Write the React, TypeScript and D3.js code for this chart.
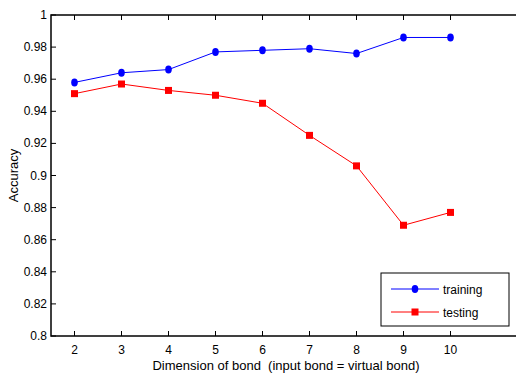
import React, { useEffect, useRef } from 'react';
import * as d3 from 'd3';

const dims = [2, 3, 4, 5, 6, 7, 8, 9, 10];
const training = [0.958, 0.964, 0.966, 0.977, 0.978, 0.979, 0.976, 0.986, 0.986];
const testing = [0.951, 0.957, 0.953, 0.950, 0.945, 0.925, 0.906, 0.869, 0.877];
const yTicks = [0.8, 0.82, 0.84, 0.86, 0.88, 0.9, 0.92, 0.94, 0.96, 0.98, 1];

const FONT = '"Liberation Sans", Arial, sans-serif';

const App = () => {
    const svgRef = useRef<SVGSVGElement>(null);

    useEffect(() => {
        const svg = d3.select(svgRef.current);
        svg.selectAll('*').remove();

        const left = 51, right = 521, top = 15, bottom = 336;
        const x = d3.scaleLinear().domain([1.5, 11.5]).range([left, right]);
        const y = d3.scaleLinear().domain([0.8, 1]).range([bottom, top]);

        const g = svg.append('g').style('font-family', FONT);

        // axes box
        g.append('rect')
            .attr('x', left).attr('y', top)
            .attr('width', right - left).attr('height', bottom - top)
            .attr('fill', 'none').attr('stroke', '#000').attr('stroke-width', 1.5);

        // y ticks (inward, both sides)
        yTicks.forEach(t => {
            g.append('line').attr('x1', left).attr('x2', left + 5)
                .attr('y1', y(t)).attr('y2', y(t)).attr('stroke', '#000');
            g.append('line').attr('x1', right).attr('x2', right - 5)
                .attr('y1', y(t)).attr('y2', y(t)).attr('stroke', '#000');
            g.append('text')
                .attr('x', left - 4).attr('y', y(t) + 4)
                .attr('text-anchor', 'end')
                .style('font-size', '12px')
                .text(d3.format('')(t));
        });

        // x ticks
        dims.forEach(d => {
            g.append('line').attr('x1', x(d)).attr('x2', x(d))
                .attr('y1', bottom).attr('y2', bottom - 5).attr('stroke', '#000');
            g.append('line').attr('x1', x(d)).attr('x2', x(d))
                .attr('y1', top).attr('y2', top + 5).attr('stroke', '#000');
            g.append('text')
                .attr('x', x(d)).attr('y', bottom + 18)
                .attr('text-anchor', 'middle')
                .style('font-size', '12px')
                .text(d);
        });

        // labels
        g.append('text')
            .attr('x', 286).attr('y', 370)
            .attr('text-anchor', 'middle')
            .style('font-size', '13px')
            .style('white-space', 'pre')
            .attr('xml:space', 'preserve')
            .text('Dimension of bond  (input bond = virtual bond)');

        g.append('text')
            .attr('transform', `translate(18, ${(top + bottom) / 2}) rotate(-90)`)
            .attr('text-anchor', 'middle')
            .style('font-size', '13px')
            .text('Accuracy');

        const line = d3.line<number>()
            .x((_, i) => x(dims[i]))
            .y(v => y(v));

        // training
        g.append('path').attr('d', line(training))
            .attr('fill', 'none').attr('stroke', '#0000ff').attr('stroke-width', 1);
        g.selectAll('.tr').data(training).enter().append('ellipse')
            .attr('cx', (_, i) => x(dims[i])).attr('cy', v => y(v))
            .attr('rx', 3.3).attr('ry', 4).attr('fill', '#0000ff');

        // testing
        g.append('path').attr('d', line(testing))
            .attr('fill', 'none').attr('stroke', '#ff0000').attr('stroke-width', 1);
        g.selectAll('.te').data(testing).enter().append('rect')
            .attr('x', (_, i) => x(dims[i]) - 3.5).attr('y', v => y(v) - 3.5)
            .attr('width', 7).attr('height', 7).attr('fill', '#ff0000');

        // legend
        const lg = g.append('g');
        lg.append('rect').attr('x', 381).attr('y', 273).attr('width', 128).attr('height', 53)
            .attr('fill', '#fff').attr('stroke', '#000').attr('stroke-width', 1);
        const items = [
            { label: 'training', color: '#0000ff', y: 289 },
            { label: 'testing', color: '#ff0000', y: 312 },
        ];
        items.forEach((it, i) => {
            lg.append('line').attr('x1', 391).attr('x2', 439)
                .attr('y1', it.y).attr('y2', it.y).attr('stroke', it.color);
            if (i === 0) {
                lg.append('ellipse').attr('cx', 415).attr('cy', it.y)
                    .attr('rx', 3.3).attr('ry', 4).attr('fill', it.color);
            } else {
                lg.append('rect').attr('x', 411.5).attr('y', it.y - 3.5)
                    .attr('width', 7).attr('height', 7).attr('fill', it.color);
            }
            lg.append('text').attr('x', 443).attr('y', it.y + 4.5)
                .style('font-size', '12px').text(it.label);
        });
    }, []);

    return (
        <svg ref={svgRef} width={516} height={375}
            style={{ position: 'absolute', left: 0, top: 0, background: '#fff' }} />
    );
};

export default App;
